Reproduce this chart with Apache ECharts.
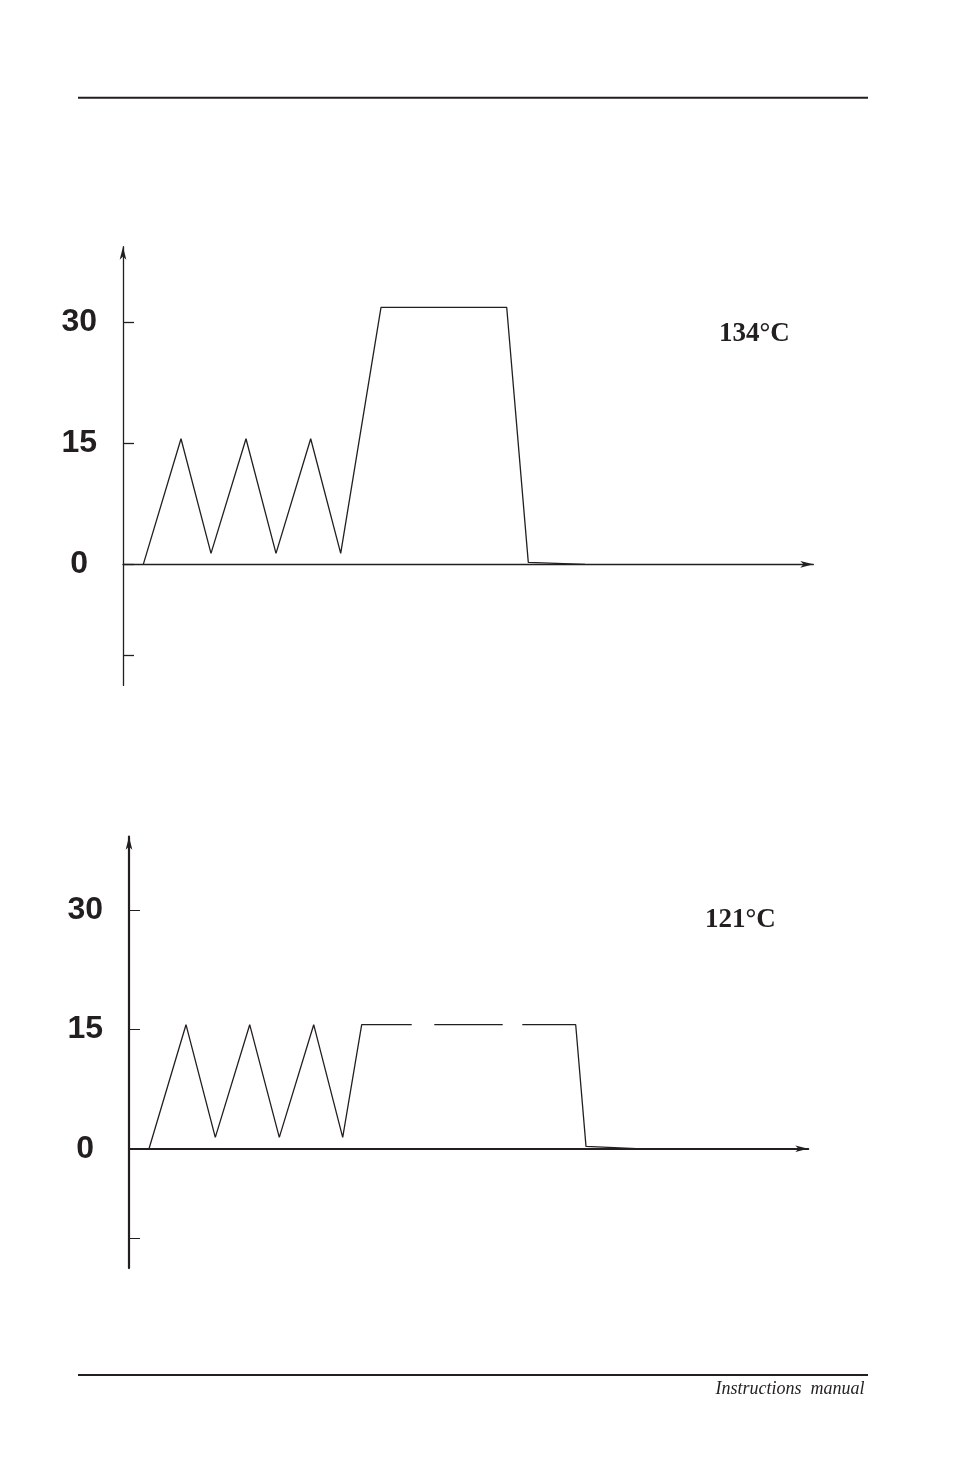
<!DOCTYPE html>
<html>
<head>
<meta charset="utf-8">
<script src="https://cdn.jsdelivr.net/npm/echarts@6/dist/echarts.min.js"></script>
<style>
html,body{margin:0;padding:0;background:#fff;}
#chart{width:954px;height:1475px;}
</style>
</head>
<body>
<div id="chart"></div>
<script>
// ---- data ----
const topLabel = '134°C';
const bottomLabel = '121°C';
const footerText = 'Instructions  manual';

// top chart (134°C): time (arbitrary units) vs value
const topX = [2.03, 5.8, 8.8, 12.3, 15.3, 18.77, 21.77, 25.8, 38.37, 40.53, 46.2];
const topY = [0, 15.56, 1.36, 15.56, 1.36, 15.56, 1.36, 31.85, 31.85, 0.25, 0];

// bottom chart (121°C): null = gap in the plateau line
const bottomX = [2.0, 5.7, 8.63, 12.07, 15.03, 18.47, 21.37, 23.27, 28.27, 29.4, 30.53, 37.37, 38.35, 39.33, 44.67, 45.7, 50.77];
const bottomY = [0, 15.58, 1.43, 15.58, 1.43, 15.58, 1.43, 15.58, 15.58, null, 15.58, 15.58, null, 15.58, 15.58, 0.3, 0];

const yTickValues = [-11.25, 0, 15, 30];
const yLabelValues = [0, 15, 30];

// ---- chart ----
const INK = '#231f20';
const toPairs = (xs, ys) => xs.map((x, i) => [x, ys[i] === null ? '-' : ys[i]]);

function yAxisFor(gridIndex, min, max, lw, tickW, margin) {
  return {
    type: 'value', gridIndex, min, max,
    splitLine: { show: false },
    axisLine: { show: true, onZero: false, symbol: ['none', 'arrow'], symbolSize: [5, 13],
      lineStyle: { color: INK, width: lw } },
    axisTick: { show: true, inside: true, length: 11, customValues: yTickValues,
      lineStyle: { color: INK, width: tickW } },
    axisLabel: { show: true, customValues: yLabelValues, margin,
      formatter: v => (v === 0 ? '0 ' : String(v)),
      color: INK, fontFamily: 'Liberation Sans, Arial, sans-serif', fontWeight: 'bold', fontSize: 32 }
  };
}
function xAxisFor(gridIndex, max, lw) {
  return {
    type: 'value', gridIndex, min: 0, max,
    splitLine: { show: false },
    axisLine: { show: true, onZero: true, symbol: ['none', 'arrow'], symbolSize: [5, 13],
      lineStyle: { color: INK, width: lw } },
    axisTick: { show: false },
    axisLabel: { show: false }
  };
}

const chart = echarts.init(document.getElementById('chart'));
chart.setOption({
  backgroundColor: '#fff',
  animation: false,
  grid: [
    { left: 123, top: 246.7, width: 690.3, height: 438.7 },
    { left: 129, top: 836.7, width: 679.3, height: 431.4 }
  ],
  xAxis: [xAxisFor(0, 69.03, 1.3), xAxisFor(1, 67.93, 2)],
  yAxis: [yAxisFor(0, -15, 39.36, 1.3, 1.3, 26), yAxisFor(1, -15, 39.2, 2.2, 1, 26)],
  series: [
    { type: 'line', xAxisIndex: 0, yAxisIndex: 0, data: toPairs(topX, topY),
      showSymbol: false, symbol: 'none', lineStyle: { color: INK, width: 1.3 } },
    { type: 'line', xAxisIndex: 1, yAxisIndex: 1, data: toPairs(bottomX, bottomY),
      showSymbol: false, symbol: 'none', connectNulls: false, lineStyle: { color: INK, width: 1.3 } }
  ],
  graphic: [
    { type: 'line', shape: { x1: 78, y1: 97.7, x2: 868, y2: 97.7 }, style: { stroke: INK, lineWidth: 2 } },
    { type: 'line', shape: { x1: 78, y1: 1375, x2: 868, y2: 1375 }, style: { stroke: INK, lineWidth: 2 } },
    { type: 'text', x: 864.5, y: 1389, style: { text: footerText, fill: INK, align: 'right', verticalAlign: 'middle',
      font: 'italic 18px "Liberation Serif", "Times New Roman", serif' } },
    { type: 'text', x: 719, y: 334, style: { text: topLabel, fill: INK, align: 'left', verticalAlign: 'middle',
      font: 'bold 27px "Liberation Serif", "Times New Roman", serif' } },
    { type: 'text', x: 705, y: 920, style: { text: bottomLabel, fill: INK, align: 'left', verticalAlign: 'middle',
      font: 'bold 27px "Liberation Serif", "Times New Roman", serif' } }
  ]
});
</script>
</body>
</html>
